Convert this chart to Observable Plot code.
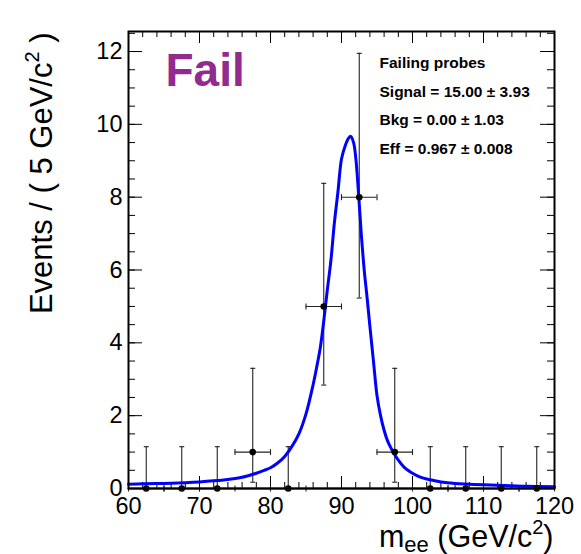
<!DOCTYPE html>
<html><head><meta charset="utf-8">
<script src="https://cdn.jsdelivr.net/npm/d3@7"></script>
<script src="https://cdn.jsdelivr.net/npm/@observablehq/plot@0.6"></script>
<style>body{margin:0;background:#fff;} #chart svg{display:block;}</style>
</head><body><div id="chart"></div>
<script>
// ---- data ----
const binCenters = [62.5, 67.5, 72.5, 77.5, 82.5, 87.5, 92.5, 97.5, 102.5, 107.5, 112.5, 117.5];
const counts     = [0, 0, 0, 1, 0, 5, 8, 1, 0, 0, 0, 0];
const errLow     = [0, 0, 0, 0.827, 0, 2.16, 2.77, 0.827, 0, 0, 0, 0];
const errHigh    = [1.148, 1.148, 1.148, 2.30, 1.148, 3.38, 3.95, 2.30, 1.148, 1.148, 1.148, 1.148];
const binHalfWidth = 2.5;

const curveX = [60,62,65,68,70,72,74,76,78,79,80,81,82,83,84,85,86,86.6,87,87.5,88,88.5,89,89.5,90,90.5,91,91.3,91.7,92,92.4,92.8,93.2,93.6,94,94.5,95,95.5,96,96.5,97,97.5,98,99,100,101,102,103,104,106,108,110,113,116,120];
const curveY = [0.12,0.13,0.14,0.16,0.18,0.21,0.25,0.31,0.42,0.49,0.57,0.7,0.88,1.15,1.5,2.05,2.85,3.43,3.85,4.6,5.45,6.25,7.3,8.15,9.05,9.4,9.62,9.67,9.5,9.1,8.1,6.95,6.0,5.25,4.45,3.5,2.55,2.0,1.6,1.3,1.1,0.93,0.78,0.55,0.42,0.32,0.26,0.22,0.18,0.14,0.12,0.1,0.08,0.06,0.05];

const bkgX = [60, 120];
const bkgY = [0, 0];

const xMajor = [60, 70, 80, 90, 100, 110, 120];
const xMinor = d3.range(60, 120.01, 2);
const yMajor = [0, 2, 4, 6, 8, 10, 12];
const yMinor = d3.range(0, 12.51, 0.5);

const infoLines = ["Failing probes", "Signal = 15.00 \u00b1 3.93", "Bkg = 0.00 \u00b1 1.03", "Eff = 0.967 \u00b1 0.008"];
const tagText = "Fail";
const xLabel = "mee (GeV/c2)";
const yLabel = "Events / ( 5 GeV/c2 )";

// ---- build ----
const points = binCenters.map((x, i) => ({
  x, y: counts[i], lo: counts[i] - errLow[i], hi: counts[i] + errHigh[i],
  x1: x - binHalfWidth, x2: x + binHalfWidth
}));
const curve = curveX.map((x, i) => ({x, y: curveY[i]}));
const bkg = bkgX.map((x, i) => ({x, y: bkgY[i]}));

const W = 581, H = 554, mL = 128, mR = 27, mT = 31, mB = 66;
const fw = W - mL - mR, fh = H - mT - mB;

const hDash = {draw(ctx, size) { const r = Math.sqrt(size / Math.PI); ctx.moveTo(-r, 0); ctx.lineTo(r, 0); }};
const vDash = {draw(ctx, size) { const r = Math.sqrt(size / Math.PI); ctx.moveTo(0, -r); ctx.lineTo(0, r); }};

const font = "'Liberation Sans', Arial, Helvetica, sans-serif";
const errColor = "#222";

const chart = Plot.plot({
  width: W, height: H,
  marginLeft: mL, marginRight: mR, marginTop: mT, marginBottom: mB,
  style: {fontFamily: font, fontSize: "23.5px", color: "black", background: "white"},
  x: {domain: [60, 120]},
  y: {domain: [0, 12.55]},
  marks: [
    // ticks inside frame
    Plot.tickX(xMajor, {x: d => d, insetTop: fh - 12, stroke: "black"}),
    Plot.tickX(xMinor, {x: d => d, insetTop: fh - 6, stroke: "black"}),
    Plot.tickX(xMajor, {x: d => d, insetBottom: fh - 12, stroke: "black"}),
    Plot.tickX(xMinor, {x: d => d, insetBottom: fh - 6, stroke: "black"}),
    Plot.tickY(yMajor, {y: d => d, insetRight: fw - 14, stroke: "black"}),
    Plot.tickY(yMinor, {y: d => d, insetRight: fw - 7, stroke: "black"}),
    Plot.tickY(yMajor, {y: d => d, insetLeft: fw - 14, stroke: "black"}),
    Plot.tickY(yMinor, {y: d => d, insetLeft: fw - 7, stroke: "black"}),
    Plot.axisX({ticks: xMajor, tickSize: 0, tickPadding: 9, tickFormat: d => String(d), label: null}),
    Plot.axisY({ticks: yMajor, tickSize: 0, tickPadding: 6, tickFormat: d => String(d), label: null}),
    // error bars
    Plot.ruleX(points, {x: "x", y1: "lo", y2: "hi", stroke: errColor, strokeWidth: 1.1}),
    Plot.ruleY(points, {y: "y", x1: "x1", x2: "x2", stroke: errColor, strokeWidth: 1.1}),
    Plot.dot(points, {x: "x", y: "hi", symbol: hDash, r: 2.5, fill: "none", stroke: errColor, strokeWidth: 1.1}),
    Plot.dot(points, {x: "x", y: "lo", symbol: hDash, r: 2.5, fill: "none", stroke: errColor, strokeWidth: 1.1}),
    Plot.dot(points, {x: "x1", y: "y", symbol: vDash, r: 3, fill: "none", stroke: errColor, strokeWidth: 1.1}),
    Plot.dot(points, {x: "x2", y: "y", symbol: vDash, r: 3, fill: "none", stroke: errColor, strokeWidth: 1.1}),
    // fit curve
    Plot.line(curve, {x: "x", y: "y", stroke: "#0000ff", strokeWidth: 3, curve: "catmull-rom"}),
    Plot.dot(points, {x: "x", y: "y", r: 3.3, fill: "black", stroke: "none"}),
    Plot.line(bkg, {x: "x", y: "y", stroke: "#a80000", strokeWidth: 2}),
    // texts
    Plot.text([tagText], {frameAnchor: "top-left", textAnchor: "start", lineAnchor: "top", dx: 37, dy: 22, fontSize: 46, fontWeight: "bold", fill: "#922b8f"}),
    Plot.text([infoLines.join("\n")], {frameAnchor: "top-left", textAnchor: "start", lineAnchor: "top", lineHeight: 1.85, dx: 251, dy: 16, fontSize: 15.5, fontWeight: "bold", fill: "black"}),
    Plot.text([xLabel], {frameAnchor: "bottom-right", textAnchor: "end", lineAnchor: "middle", dx: -1, dy: 49, fontSize: 30.5, fill: "black"}),
    Plot.text([yLabel], {frameAnchor: "top-left", textAnchor: "end", lineAnchor: "middle", rotate: -90, dx: -86, dy: 1, fontSize: 31, fill: "black"}),
    Plot.frame({stroke: "black", strokeWidth: 2})
  ]
});

document.getElementById("chart").appendChild(chart);

// rich text (sub/superscripts)
function rich(content, parts) {
  d3.select(chart).selectAll("text").filter(function() { return this.textContent === content; }).each(function() {
    const t = d3.select(this);
    t.text(null);
    parts.forEach(p => {
      const s = t.append("tspan").text(p.t);
      if (p.dy) s.attr("dy", p.dy);
      if (p.size) s.attr("font-size", p.size);
    });
  });
}
rich(xLabel, [
  {t: "m"},
  {t: "ee", dy: "5", size: "22"},
  {t: " (GeV/c", dy: "-5"},
  {t: "2", dy: "-13", size: "20"},
  {t: ")", dy: "13"}
]);
rich(yLabel, [
  {t: "Events / ( 5 GeV/c"},
  {t: "2", dy: "-13", size: "20"},
  {t: " )", dy: "13"}
]);
</script>
</body></html>
